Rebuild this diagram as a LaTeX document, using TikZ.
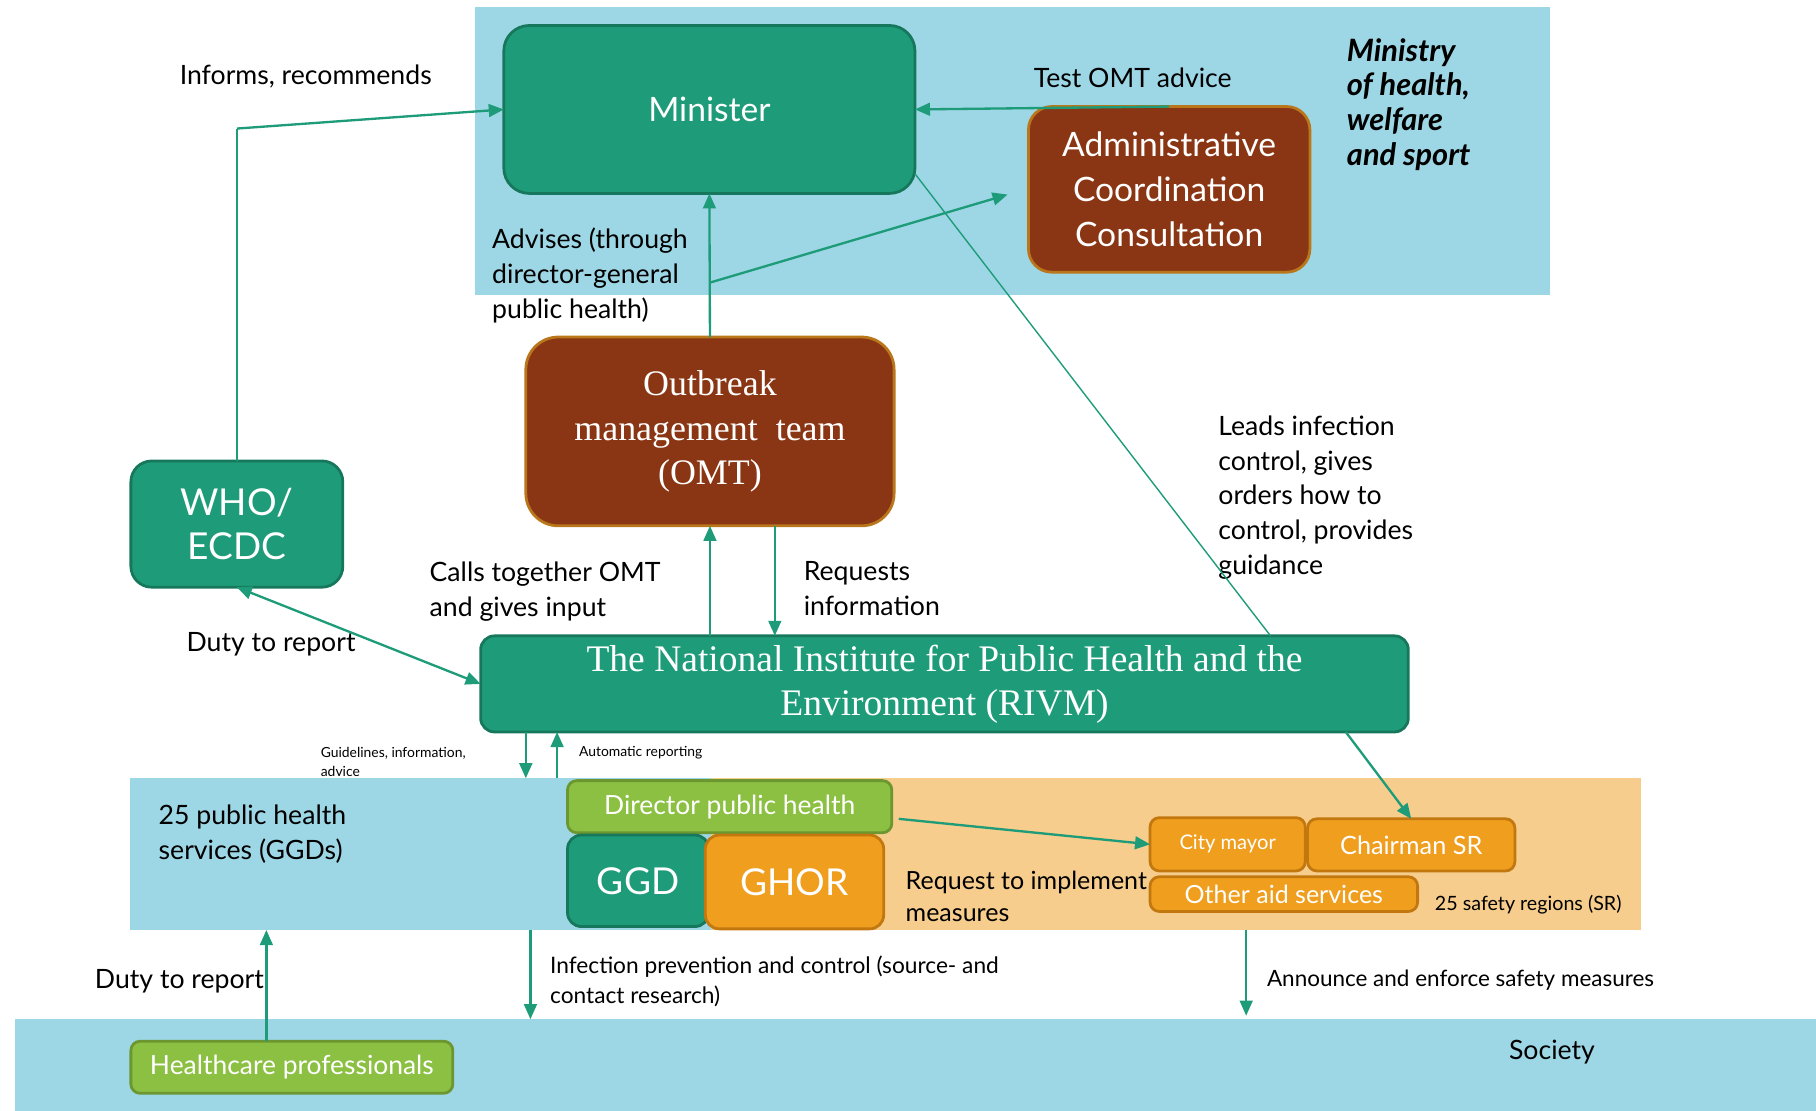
\documentclass[tikz,border=0pt]{standalone}
\usepackage{fontspec}
\setmainfont{Lato}
\newfontfamily\tms{Liberation Serif}
\usetikzlibrary{arrows.meta,calc}
\definecolor{bgblue}{HTML}{9DD7E5}
\definecolor{bgorange}{HTML}{F6CD8D}
\definecolor{grn}{HTML}{1E9B78}
\definecolor{grnd}{HTML}{17775C}
\definecolor{brn}{HTML}{8A3614}
\definecolor{brnd}{HTML}{BA761B}
\definecolor{org}{HTML}{F09E1E}
\definecolor{orgd}{HTML}{C2780F}
\definecolor{lgrn}{HTML}{8BC043}
\definecolor{lgrnd}{HTML}{6B9630}
\definecolor{arr}{HTML}{1E9B78}
\newcommand\fs[2]{\fontsize{#1pt}{#2pt}\selectfont}
\begin{document}
\begin{tikzpicture}[x=0.5pt,y=-0.5pt,
  sz/.style 2 args={minimum width=#1*0.5pt, minimum height=#2*0.5pt},
  band/.style={inner sep=0pt, outer sep=0pt, fill=#1, draw=none},
  box/.style={inner sep=0pt, outer sep=0pt, text=white, align=center, line width=1.2pt},
  gbox/.style={box, fill=grn, draw=grnd},
  bbox/.style={box, fill=brn, draw=brnd},
  obox/.style={box, fill=org, draw=orgd},
  lbox/.style={box, fill=lgrn, draw=lgrnd},
  lbl/.style={inner sep=0pt, outer sep=0pt, align=left, text=black, font=\fs{11.5}{15}},
  conn/.style={draw=arr, line width=1pt, -{Triangle[length=6.5pt,width=5.5pt]}},
  dconn/.style={draw=arr, line width=1pt, {Triangle[length=6.5pt,width=5.5pt]}-{Triangle[length=6.5pt,width=5.5pt]}},
  thinl/.style={draw=arr, line width=0.6pt}
]
\useasboundingbox (0,0) rectangle (1568,959);
% background bands
\node[band=bgblue, sz={928}{249}] (ministry) at (874,130.5) {};
\node[band=bgblue, sz={503}{131}] (ggdband) at (363.5,737.5) {};
\node[band=bgorange, sz={803}{131}] (srband) at (1015.5,737.5) {};
\node[band=bgblue, sz={1555}{79}] (society) at (790.5,919.5) {};

% boxes
\node[gbox, sz={355}{145}, rounded corners=11pt, font=\fs{14.5}{18}] (minister) at (612.5,94.5) {Minister};
\node[bbox, sz={243}{143}, rounded corners=10pt, font=\fs{14.5}{19.3}] (acc) at (1009.5,163.5) {Administrative\\Coordination\\Consultation};
\node[bbox, sz={318}{163}, rounded corners=14pt, font=\tms\fs{15.5}{19.3}] (omt) at (613,372.5) {Outbreak\\management\ \ team\\(OMT)};
\node[gbox, sz={183}{109}, rounded corners=9pt, font=\fs{16}{19}] (who) at (204.5,452.5) {WHO/\\ECDC};
\node[gbox, sz={801}{83}, rounded corners=6pt, font=\tms\fs{16.2}{19}] (rivm) at (815.5,590.5) {The National Institute for Public Health and the\\Environment (RIVM)};
\node[lbox, sz={280}{45}, rounded corners=4pt, font=\fs{11.4}{14}] (dir) at (630,696.5) {Director public health};
\node[gbox, sz={122}{79}, rounded corners=6pt, font=\fs{16}{19}] (ggd) at (551,760.5) {GGD};
\node[obox, sz={154}{81}, rounded corners=6pt, font=\fs{16}{19}] (ghor) at (686,761.5) {GHOR};
\node[obox, sz={134}{46}, rounded corners=4pt, font=\fs{8.7}{11}] (mayor) at (1060,729) {City mayor};
\node[obox, sz={179}{45}, rounded corners=4pt, font=\fs{10.9}{13}] (chair) at (1218.5,729.5) {Chairman SR};
\node[obox, sz={231}{30}, rounded corners=4pt, font=\fs{10.8}{13}] (aid) at (1108.5,772) {Other aid services};
\node[lbox, sz={278}{45}, rounded corners=4pt, font=\fs{11.4}{14}] (hp) at (252,921.5) {Healthcare professionals};

% labels
\node[lbl] (tinf) at (264,66) {Informs, recommends};
\node[lbl] (ttest) at (978,67) {Test OMT advice};
\node[lbl, anchor=north west, font=\bfseries\itshape\fs{13.3}{15}] (tmin) at (1163,33) {Ministry\\of health,\\welfare\\and sport};
\node[lbl, anchor=north west] (tadv) at (425,197) {Advises (through\\director-general\\public health)};
\node[lbl, anchor=north west] (tcall) at (371,485) {Calls together OMT\\and gives input};
\node[lbl, anchor=north west] (treq) at (694,485) {Requests\\information};
\node[lbl, anchor=north west] (tlead) at (1052,359) {Leads infection\\control, gives\\orders how to\\control, provides\\guidance};
\node[lbl] (tduty1) at (234,556) {Duty to report};
\node[lbl, anchor=north west, font=\fs{6}{8.5}] (tguide) at (277,645) {Guidelines, information,\\advice};
\node[lbl, anchor=west, font=\fs{6}{8.5}] (tauto) at (500,650) {Automatic reporting};
\node[lbl, anchor=north west] (tggds) at (137,695) {25 public health\\services (GGDs)};
\node[lbl, anchor=north west, font=\fs{10.8}{14}] (treqm) at (782,752) {Request to implement\\measures};
\node[lbl, anchor=west, font=\fs{8.5}{10}] (tsr) at (1239,781) {25 safety regions (SR)};
\node[lbl, anchor=west] (tduty2) at (82,847) {Duty to report};
\node[lbl, anchor=north west, font=\fs{9.8}{13}] (tinfc) at (475,825) {Infection prevention and control (source- and\\contact research)};
\node[lbl, anchor=west, font=\fs{9.7}{13}] (tann) at (1094,846) {Announce and enforce safety measures};
\node[lbl] (tsoc) at (1340,908) {Society};

% connectors
\coordinate (wturn) at (who.north |- 0,111);
\draw[thinl] (who.north) -- (wturn);
\draw[conn] (wturn) -- (minister.west);
\draw[conn] (omt.north) -- (minister.south);
\coordinate (advbr) at (613,244);
\coordinate (accin) at (870,168);
\draw[conn] (advbr) -- (accin);
\draw[conn] (acc.north) -- (minister.east);
\coordinate (minout) at (790,150);
\coordinate (rivmin) at (rivm.north -| 1097,0);
\draw[thinl] (minout) -- (rivmin);
\draw[conn] (rivm.north -| omt.south) -- (omt.south);
\draw[conn] (omt.south -| 669,0) -- (rivm.north -| 669,0);
\draw[dconn] (who.south) -- (rivm.west);
\draw[conn] (rivm.south -| 454,0) -- (ggdband.north -| 454,0);
\draw[conn] (ggdband.north -| 481,0) -- (rivm.south -| 481,0);
\coordinate (rivmout) at (rivm.south -| 1162,0);
\draw[conn] (rivmout) -- (chair.north);
\coordinate (dirout) at (776,707);
\draw[conn] (dirout) -- (mayor.west);
\draw[conn] (hp.north -| 230,0) -- (ggdband.south -| 230,0);
\draw[conn] (ggdband.south -| 458,0) -- (society.north -| 458,0);
\draw[conn] (srband.south -| 1076,0) -- ($(society.north -| 1076,0)+(0,-3)$);
\end{tikzpicture}
\end{document}
